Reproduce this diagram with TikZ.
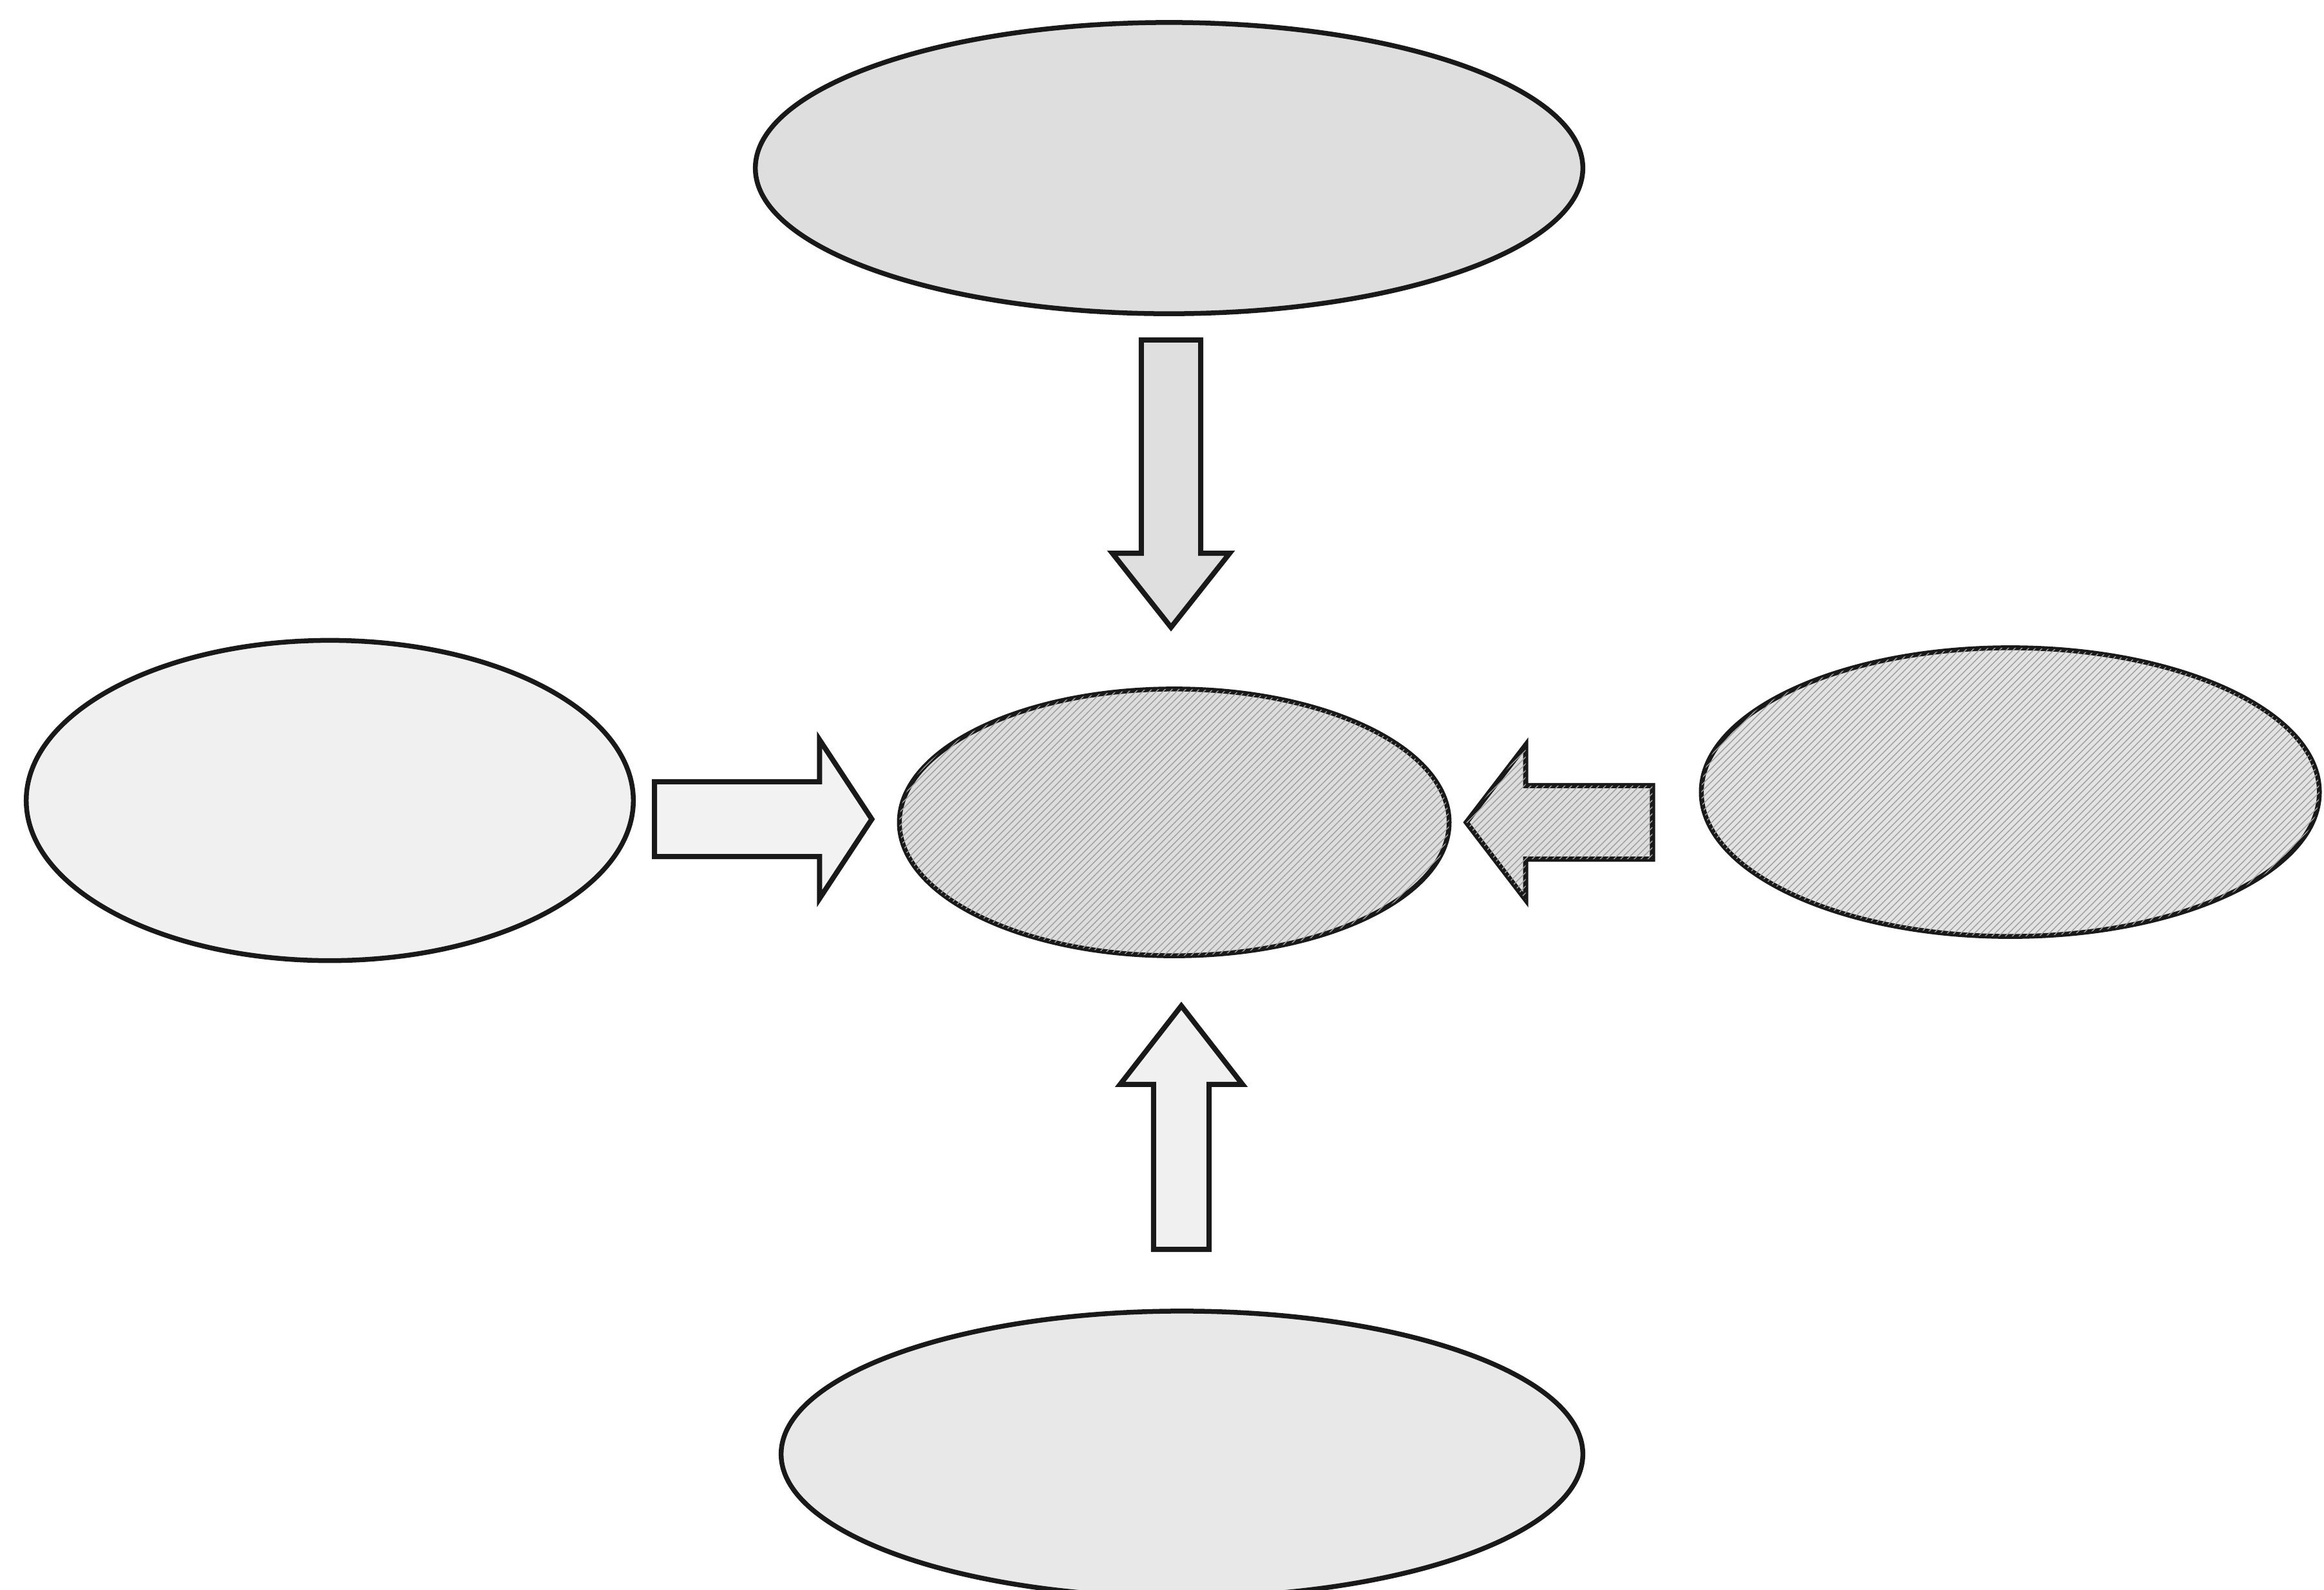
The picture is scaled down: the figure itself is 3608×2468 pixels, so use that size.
\documentclass[tikz,border=0pt]{standalone}
\usetikzlibrary{shapes.geometric,calc,patterns}

% Block arrow from a tail coordinate to a tip coordinate:
% [style]{tail}{tip}{shaft half-width}{head half-width}{head length}
\newcommand\blockarrow[6][]{%
  \coordinate (#2-hb) at ($(#3)!#6!(#2)$);
  \draw[blockarrow,#1]
    ($(#2)!#4!90:(#3)$) -- ($(#2-hb)!#4!90:(#3)$) -- ($(#2-hb)!#5!90:(#3)$)
    -- (#3)
    -- ($(#2-hb)!#5!-90:(#3)$) -- ($(#2-hb)!#4!-90:(#3)$) -- ($(#2)!#4!-90:(#3)$)
    -- cycle;}

\tikzset{
  ellip/.style={ellipse, draw=black!90, line width=0.075cm, inner sep=0pt},
  blockarrow/.style={draw=black!90, line width=0.08cm, line join=miter},
  hatch/.style={postaction={pattern=north east lines, pattern color=gray!75}},
}

\begin{document}
\begin{tikzpicture}[x=0.01cm, y=-0.01cm]
  \useasboundingbox (0,0) rectangle (3608,2468);

  % the four outer ellipses and the central one
  \node[ellip, fill=gray!26, minimum width=12.84cm, minimum height=4.52cm] (top) at (1815,261) {};
  \node[ellip, fill=gray!12, minimum width=9.42cm, minimum height=4.97cm] (left) at (512,1243) {};
  \node[ellip, fill=gray!27, hatch, minimum width=8.53cm, minimum height=4.14cm] (hub) at (1823,1277) {};
  \node[ellip, fill=gray!22, hatch, minimum width=9.59cm, minimum height=4.48cm] (right) at (3121,1230) {};
  \node[ellip, fill=gray!18, minimum width=12.44cm, minimum height=4.44cm] (bottom) at (1835,2258) {};

  % tails and tips of the block arrows
  \coordinate (d1) at ($(top.south)+(3,37)$);
  \coordinate (d2) at ($(d1 |- hub.north)+(0,-92)$);
  \coordinate (r1) at ($(left.east)+(29,29)$);
  \coordinate (r2) at ($(r1 -| hub.west)+(-39,0)$);
  \coordinate (l1) at ($(right.west)+(-72,47)$);
  \coordinate (l2) at ($(l1 -| hub.east)+(23,0)$);
  \coordinate (u1) at ($(bottom.north)+(-1,-92)$);
  \coordinate (u2) at ($(u1 |- hub.south)+(0,74)$);

  % block arrows pointing at the central ellipse
  \blockarrow[fill=gray!25]{d1}{d2}{0.46cm}{0.91cm}{1.15cm}
  \blockarrow[fill=gray!10]{r1}{r2}{0.58cm}{1.23cm}{0.81cm}
  \blockarrow[fill=gray!27, hatch]{l1}{l2}{0.57cm}{1.20cm}{0.92cm}
  \blockarrow[fill=gray!12]{u1}{u2}{0.43cm}{0.95cm}{1.22cm}
\end{tikzpicture}
\end{document}
